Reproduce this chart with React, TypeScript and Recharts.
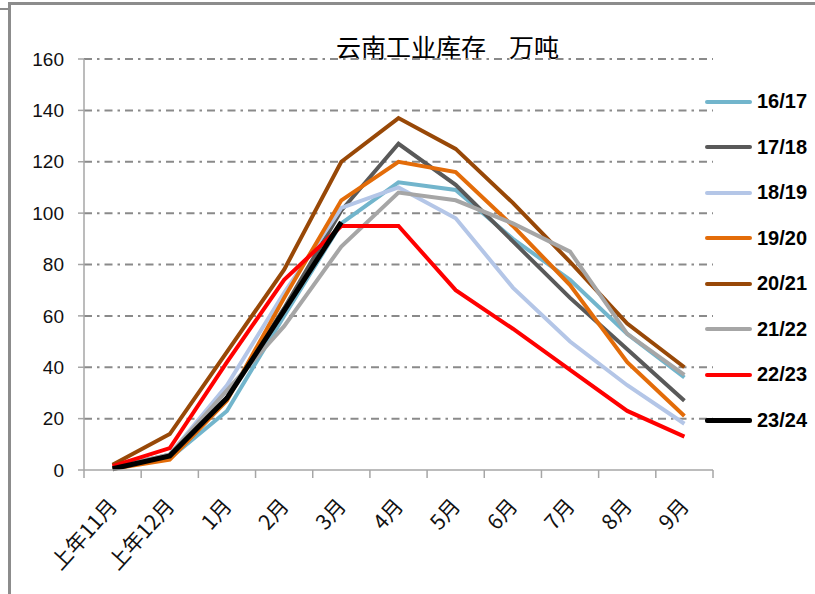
import React from 'react';
import { LineChart, Line, XAxis, YAxis, CartesianGrid } from 'recharts';

const months = ['上年11月', '上年12月', '1月', '2月', '3月', '4月', '5月', '6月', '7月', '8月', '9月'];
const yTicks = [0, 20, 40, 60, 80, 100, 120, 140, 160];

const s1617 = [1, 4.5, 23, 60, 96, 112, 109, 90, 74, 53, 36];
const s1718 = [1, 6, 28, 63, 101, 127, 111, 89, 67, 47, 27];
const s1819 = [1, 6, 33, 69, 102, 110, 98, 71, 50, 33, 18];
const s1920 = [0.5, 4, 27, 67, 105, 120, 116, 95, 72, 42, 21];
const s2021 = [2, 14, 46, 78, 120, 137, 125, 104, 81, 57, 40];
const s2122 = [1, 6, 31, 56, 87, 108, 105, 96, 85, 53, 37];
const s2223 = [1.5, 8.5, 42, 74, 95, 95, 70, 55, 39, 23, 13];
const s2324 = [0.5, 5.5, 28, 62, 96.5, null, null, null, null, null, null];

const seriesNames = ['16/17', '17/18', '18/19', '19/20', '20/21', '21/22', '22/23', '23/24'];
const seriesValues = [s1617, s1718, s1819, s1920, s2021, s2122, s2223, s2324];
const seriesColors = ['#72B5CC', '#595959', '#B4C6E7', '#E36C09', '#984807', '#A6A6A6', '#FF0000', '#000000'];
const seriesWidths = [4, 4, 4, 4, 4, 4, 4, 5];

const data = months.map((m, i) => {
  const row: Record<string, any> = { month: m };
  seriesNames.forEach((n, k) => {
    row[n] = seriesValues[k][i];
  });
  return row;
});

const PLOT_LEFT = 84;
const PLOT_RIGHT = 713;
const STEP = (PLOT_RIGHT - PLOT_LEFT) / months.length;

const XTick = (props: any) => {
  const { x, payload, index } = props;
  const axisY = 470;
  const lx = x + 6;
  const ly = axisY + 37;
  return (
    <g>
      <line x1={x - STEP / 2} y1={axisY} x2={x - STEP / 2} y2={axisY + 8} stroke="#A6A6A6" strokeWidth={1.5} />
      {index === months.length - 1 && (
        <line x1={x + STEP / 2} y1={axisY} x2={x + STEP / 2} y2={axisY + 8} stroke="#A6A6A6" strokeWidth={1.5} />
      )}
      <text
        x={lx}
        y={ly}
        textAnchor="end"
        transform={`rotate(-48, ${lx}, ${ly})`}
        fontSize={21}
        fontFamily="'Noto Sans CJK SC', 'Liberation Sans', sans-serif"
        fill="#111"
      >
        {payload.value}
      </text>
    </g>
  );
};

const LegendBox = () => (
  <div style={{ position: 'absolute', left: 705, top: 79, display: 'flex', flexDirection: 'column' }}>
    {seriesNames.map((n, k) => (
      <div key={n} style={{ display: 'flex', alignItems: 'center', height: 45.5 }}>
        <div
          style={{
            width: 47,
            height: seriesWidths[k],
            background: seriesColors[k],
            borderRadius: 2,
            marginRight: 5,
          }}
        />
        <span
          style={{
            fontFamily: "'Liberation Sans', Arial, sans-serif",
            fontWeight: 'bold',
            fontSize: 20,
            color: '#000',
          }}
        >
          {n}
        </span>
      </div>
    ))}
  </div>
);

export default function App() {
  return (
    <div style={{ position: 'absolute', left: 0, top: 0, width: 815, height: 594, background: '#fff', overflow: 'hidden' }}>
      <div style={{ position: 'absolute', left: 8, top: 2, width: 820, height: 600, borderTop: '3px solid #8C8C8C', borderLeft: '3px solid #8C8C8C' }} />
      <div style={{ position: 'absolute', left: 0, top: 8, width: 8, height: 2, background: '#8C8C8C' }} />
      <div
        style={{
          position: 'absolute',
          left: 336,
          top: 31,
          fontFamily: "'Noto Sans CJK SC', sans-serif",
          fontSize: 25,
          lineHeight: '30px',
          color: '#000',
          whiteSpace: 'pre',
        }}
      >
        云南工业库存<span style={{ marginLeft: 23 }}>万吨</span>
      </div>
      <LineChart
        width={815}
        height={594}
        data={data}
        margin={{ top: 59, right: 815 - PLOT_RIGHT, bottom: 0, left: 0 }}
        style={{ position: 'absolute', left: 0, top: 0 }}
      >
        <CartesianGrid
          vertical={false}
          stroke="#8A8A8A"
          strokeWidth={2}
          strokeDasharray="8 5 2.5 5"
          horizontalValues={[20, 40, 60, 80, 100, 120, 140, 160]}
        />
        <XAxis
          dataKey="month"
          height={124}
          padding={{ left: STEP / 2, right: STEP / 2 }}
          axisLine={{ stroke: '#A6A6A6', strokeWidth: 1.5 }}
          tickLine={false}
          interval={0}
          tick={<XTick />}
        />
        <YAxis
          width={PLOT_LEFT}
          domain={[0, 160]}
          ticks={yTicks}
          interval={0}
          axisLine={{ stroke: '#A6A6A6', strokeWidth: 1.5 }}
          tickLine={{ stroke: '#A6A6A6', strokeWidth: 1.5 }}
          tickSize={6}
          tickMargin={14}
          tick={{ fontSize: 19, fill: '#111', fontFamily: "'Liberation Sans', Arial, sans-serif" }}
        />
        {seriesNames.map((n, k) => (
          <Line
            key={n}
            type="linear"
            dataKey={n}
            stroke={seriesColors[k]}
            strokeWidth={seriesWidths[k]}
            dot={false}
            activeDot={false}
            isAnimationActive={false}
            connectNulls={false}
          />
        ))}
      </LineChart>
      <LegendBox />
    </div>
  );
}
